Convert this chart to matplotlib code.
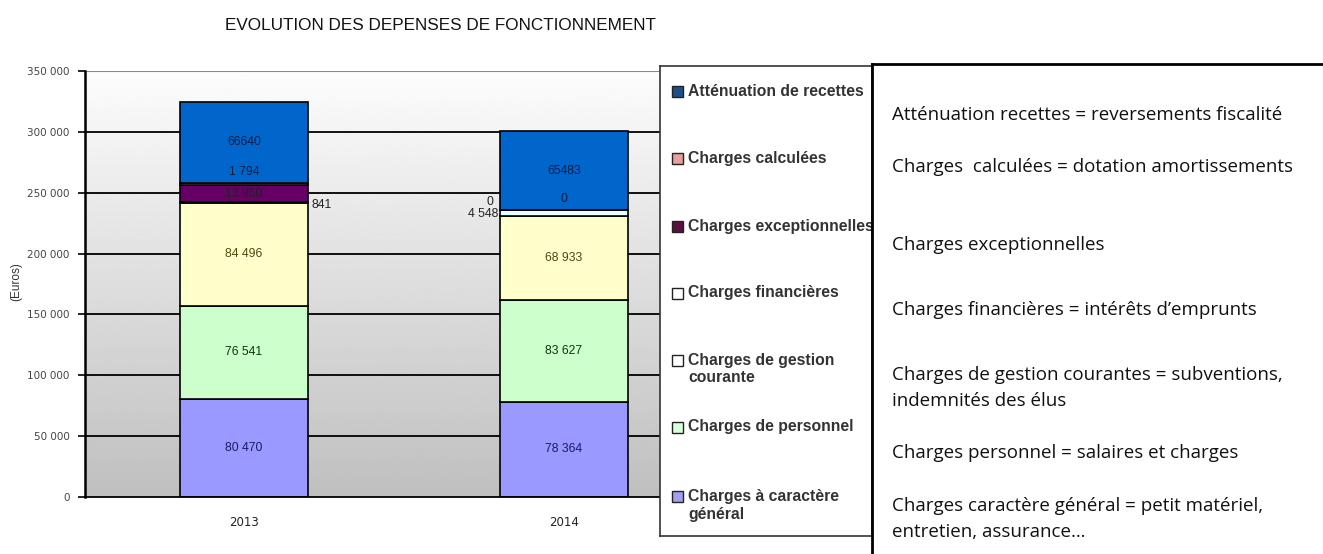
import numpy as np
import matplotlib
matplotlib.use("Agg")
import matplotlib.pyplot as plt
from matplotlib.lines import Line2D
from matplotlib.patches import Rectangle

# data
years = ["2013", "2014"]
series = ["Charges à caractère\ngénéral", "Charges de personnel", "Charges de gestion\ncourante",
          "Charges financières", "Charges exceptionnelles", "Charges calculées",
          "Atténuation de recettes"]
general = [80470, 78364]
personnel = [76541, 83627]
gestion = [84496, 68933]
financieres = [841, 4548]
exceptionnelles = [13950, 0]
calculees = [1794, 0]
attenuation = [66640, 65483]
values = [general, personnel, gestion, financieres, exceptionnelles, calculees, attenuation]

colors = ["#9999FF", "#CCFFCC", "#FFFFCC", "#E6FFFF", "#660066", "#FF9999", "#0066CC"]
legend_colors = ["#A0A0EE", "#D8FFD8", "#FFFFFF", "#FFFFFF", "#5C1042", "#E8A09A", "#1F4E8C"]
label_colors = ["#1A1A66", "#0A3A0A", "#4A4A10", "#222222", "#222222", "#0A1A40", "#0A1A40"]

yticks = [0, 50000, 100000, 150000, 200000, 250000, 300000, 350000]
notes = ["Atténuation recettes = reversements fiscalité",
         "Charges  calculées = dotation amortissements",
         "Charges exceptionnelles",
         "Charges financières = intérêts d\u2019emprunts",
         "Charges de gestion courantes = subventions,\nindemnités des élus",
         "Charges personnel = salaires et charges",
         "Charges caractère général = petit matériel,\nentretien, assurance\u2026"]

W, H = 1323, 554
fig = plt.figure(figsize=(W / 100, H / 100), dpi=100)
plt.rcParams['font.family'] = ['Liberation Sans', 'DejaVu Sans']

def fx(px):
    return px / W

def fy(py):
    return 1 - py / H

# plot area
ax = fig.add_axes([fx(85), fy(497), fx(660 - 85), (497 - 71) / H])
ax.set_xlim(-0.497, 1.3)
ax.set_ylim(0, 350000)
grad = np.linspace(0.99, 0.75, 256).reshape(-1, 1)
ax.imshow(grad, extent=[-0.497, 1.3, 0, 350000], aspect="auto", cmap="gray",
          vmin=0, vmax=1, zorder=0, origin="upper")
for t in yticks[1:-1]:
    ax.axhline(t, color="black", lw=1.3, zorder=1)
ax.axhline(350000, color="#8a8a8a", lw=1.5, zorder=1)

x = np.arange(len(years))
bottom = np.zeros(len(years))
for vals, c in zip(values, colors):
    ax.bar(x, vals, 0.4, bottom=bottom, color=c, edgecolor="black", lw=1.2, zorder=2)
    bottom += np.array(vals)

def fmt(v, grouped=True):
    s = f"{v:,}".replace(",", " ")
    return s if grouped else str(v)

# segment labels
lfs = 8.8
cum = np.zeros(len(years))
for i, (vals, lc) in enumerate(zip(values, label_colors)):
    for j, v in enumerate(vals):
        mid = cum[j] + v / 2
        txt = fmt(v, grouped=(i != 6))
        if i == 3:
            # small segment, label outside
            if j == 0:
                ax.text(x[j] + 0.212, mid - 2000, txt, fontsize=lfs, color=lc,
                        ha="left", va="center", zorder=3)
            else:
                ax.text(x[j] - 0.206, mid - 500, txt, fontsize=lfs, color=lc,
                        ha="right", va="center", zorder=3)
        elif i == 4 and v == 0:
            ax.text(x[j] - 0.222, cum[j] + 7000, txt, fontsize=lfs, color=lc,
                    ha="right", va="center", zorder=3)
        elif i == 5:
            ax.text(x[j], mid + 9500, txt, fontsize=lfs, color=lc,
                    ha="center", va="center", zorder=3)
        else:
            ax.text(x[j], mid, txt, fontsize=lfs, color=lc,
                    ha="center", va="center", zorder=3)
    cum += np.array(vals)

ax.set_yticks(yticks)
ax.set_yticklabels([fmt(t) for t in yticks], fontsize=7.5, color="#444444",
                   family=["DejaVu Sans"])
ax.set_xticks(x)
ax.set_xticklabels(years, fontsize=8.5, color="#222222", family=["DejaVu Sans"])
ax.tick_params(axis="y", length=5, width=1.2, pad=6)
ax.tick_params(axis="x", length=0, pad=14)
for s in ["top", "right"]:
    ax.spines[s].set_visible(False)
ax.spines["left"].set_linewidth(1.8)
ax.spines["bottom"].set_linewidth(1.3)
fig.text(fx(16), fy(282), "(Euros)", fontsize=8.5, rotation=90, ha="center",
         va="center", color="#333333")

fig.text(fx(440), fy(25), "EVOLUTION DES DEPENSES DE FONCTIONNEMENT", fontsize=12.3,
         ha="center", va="center", color="#111111")

# legend box
lax = fig.add_axes([fx(660), fy(536), fx(872 - 660), (536 - 66) / H])
lax.set_xlim(0, 212)
lax.set_ylim(470, 0)
lax.set_xticks([])
lax.set_yticks([])
for s in lax.spines.values():
    s.set_linewidth(1.2)
    s.set_color("#333333")
leg_y = [91, 158, 226, 293, 360, 427, 496]
order = list(range(len(series)))[::-1]
for k, idx in enumerate(order):
    yy = leg_y[k] - 66
    lax.add_patch(Rectangle((12, yy - 5.5), 11, 11, facecolor=legend_colors[idx],
                            edgecolor="#222222", lw=1.0))
    for n, line in enumerate(series[idx].split("\n")):
        lax.text(28, yy + n * 18, line, fontsize=11.3, color="#333333", ha="left",
                 va="center", clip_on=True, fontweight="bold")

# notes box on the right
fig.add_artist(Line2D([fx(872), fx(872)], [fy(64), 0], color="black", lw=2))
fig.add_artist(Line2D([fx(872), 1], [fy(64), fy(64)], color="black", lw=2))
note_y = [115, 167, 245, 310, 375, 453, 506]
for t, yy in zip(notes, note_y):
    for n, line in enumerate(t.split("\n")):
        fig.text(fx(892), fy(yy + n * 26), line, fontsize=13.5,
                 family=["Open Sans", "DejaVu Sans"], ha="left", va="center",
                 color="#111111")

fig.savefig("out.png", dpi=100)
